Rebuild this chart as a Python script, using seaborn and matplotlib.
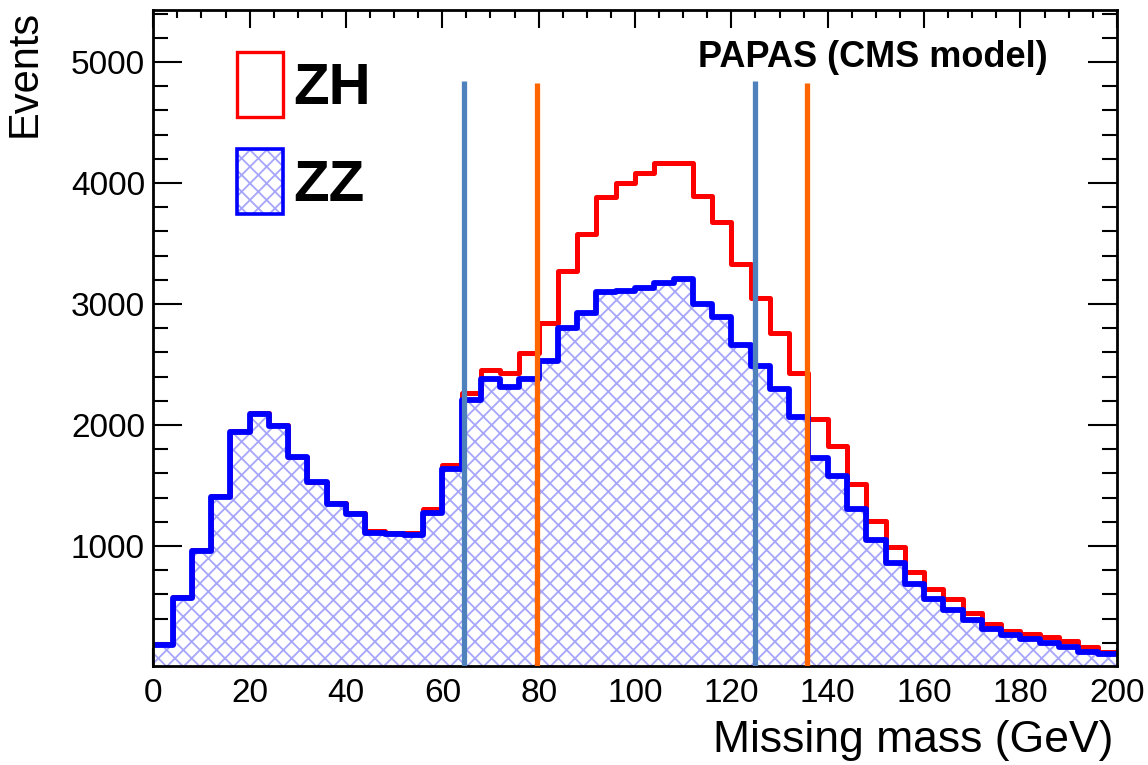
import numpy as np
import pandas as pd
import matplotlib
matplotlib.use("Agg")
import matplotlib.pyplot as plt
import seaborn as sns
from matplotlib.patches import Patch
from matplotlib.legend_handler import HandlerTuple
from matplotlib.ticker import MultipleLocator

# ---------------- data ----------------
bin_edges = list(range(0, 204, 4))          # 50 bins of 4 GeV, 0..200
zz_counts = [185, 572, 958, 1406, 1939, 2091, 1994, 1732, 1525, 1345,
             1262, 1110, 1097, 1091, 1276, 1635, 2203, 2378, 2311, 2384,
             2529, 2799, 2927, 3096, 3110, 3131, 3177, 3206, 3003, 2892,
             2660, 2490, 2300, 2063, 1724, 1581, 1306, 1050, 857, 686,
             559, 471, 388, 314, 264, 229, 196, 168, 127, 107]
zh_plus_zz_counts = [192, 579, 965, 1413, 1946, 2098, 2001, 1739, 1532, 1352,
                     1269, 1122, 1109, 1104, 1304, 1671, 2267, 2456, 2433, 2596,
                     2840, 3270, 3576, 3887, 4003, 4084, 4166, 4166, 3895, 3677,
                     3334, 3052, 2762, 2427, 2047, 1826, 1512, 1209, 989, 788,
                     642, 559, 449, 355, 300, 273, 245, 218, 163, 127]
blue_cut_lines = [64.6, 125.0]
blue_cut_top = 4840
orange_cut_lines = [79.6, 135.7]
orange_cut_top = 4825
x_ticks = [0, 20, 40, 60, 80, 100, 120, 140, 160, 180, 200]
y_ticks = [1000, 2000, 3000, 4000, 5000]

edges = np.array(bin_edges, dtype=float)
bin_centers = (edges[:-1] + edges[1:]) / 2
df = pd.DataFrame({"mass": bin_centers,
                   "zz": np.array(zz_counts, dtype=float),
                   "zh": np.array(zh_plus_zz_counts, dtype=float)})

# ---------------- style ----------------
sns.set_style("ticks")
plt.rcParams["font.family"] = ["Liberation Sans", "DejaVu Sans"]
plt.rcParams["hatch.linewidth"] = 1.3
plt.rcParams["hatch.color"] = "#a6a6fb"
for k in ["text.color", "axes.labelcolor", "xtick.color", "ytick.color",
          "xtick.labelcolor", "ytick.labelcolor"]:
    plt.rcParams[k] = "black"

BLUE = "#0000ff"
RED = "#ff0000"
HATCH = "#a6a6fb"

fig = plt.figure(figsize=(11.48, 7.65), dpi=100)
ax = fig.add_axes([0.1335, 0.1298, 0.9728 - 0.1335, 0.9869 - 0.1298])

# hatched ZZ fill
sns.histplot(x=df["mass"], weights=df["zz"], bins=bin_edges, element="step",
             fill=True, ax=ax, color=HATCH, alpha=1, linewidth=0)
fill = ax.collections[-1]
fill.set_facecolor("white")
fill.set_edgecolor(HATCH)
fill.set_hatch("xx")
fill.set_linewidth(0)

# ZH (stacked on ZZ) outline
sns.histplot(x=df["mass"], weights=df["zh"], bins=bin_edges, element="step",
             fill=False, ax=ax, color=RED, linewidth=3.6)
# ZZ outline
sns.histplot(x=df["mass"], weights=df["zz"], bins=bin_edges, element="step",
             fill=False, ax=ax, color=BLUE, linewidth=4.2)

# cut lines
ax.vlines(blue_cut_lines, 0, blue_cut_top, colors="#4f81bd", linewidth=3.8, zorder=5)
ax.vlines(orange_cut_lines, 0, orange_cut_top, colors="#ff6600", linewidth=3.8, zorder=5)

# axes
ax.set_xlim(0, 200)
ax.set_ylim(10, 5430)
ax.set_xticks(x_ticks)
ax.set_yticks(y_ticks)
ax.xaxis.set_minor_locator(MultipleLocator(5))
ax.yaxis.set_minor_locator(MultipleLocator(200))
ax.tick_params(axis="both", which="both", direction="in", top=True, right=True,
               width=1.5, color="black", labelsize=24, labelcolor="black")
ax.tick_params(axis="x", which="major", length=13, pad=9)
ax.tick_params(axis="x", which="minor", length=6)
ax.tick_params(axis="y", which="major", length=21, pad=6)
ax.tick_params(axis="y", which="minor", length=10.5)
for s in ax.spines.values():
    s.set_linewidth(2.0)
    s.set_color("black")
    s.set_visible(True)

ax.set_xlabel("Missing mass (GeV)", fontsize=32, loc="right", color="black")
ax.xaxis.set_label_coords(0.996, -0.083)
ax.set_ylabel("Events", fontsize=30, loc="top", color="black")
ax.yaxis.set_label_coords(-0.113, 1.0)

ax.text(0.928, 0.927, "PAPAS (CMS model)", transform=ax.transAxes,
        ha="right", va="center", fontsize=26, fontweight="bold", color="black")

# legend
zh_handle = Patch(facecolor="none", edgecolor=RED, linewidth=2.4)
zz_fill = Patch(facecolor="white", edgecolor=HATCH, hatch="xx", linewidth=0)
zz_edge = Patch(facecolor="none", edgecolor=BLUE, linewidth=2.6)
leg = ax.legend([zh_handle, (zz_fill, zz_edge)], ["ZH", "ZZ"],
                handler_map={tuple: HandlerTuple(ndivide=1, pad=0)},
                loc="upper left", bbox_to_anchor=(0.0868, 0.936),
                frameon=False, borderpad=0, borderaxespad=0,
                handlelength=0.79, handleheight=1.34, handletextpad=0.17,
                labelspacing=0.55, prop={"size": 42, "weight": "bold"})
for t in leg.get_texts():
    t.set_color("black")

fig.savefig("out.png", dpi=100)
